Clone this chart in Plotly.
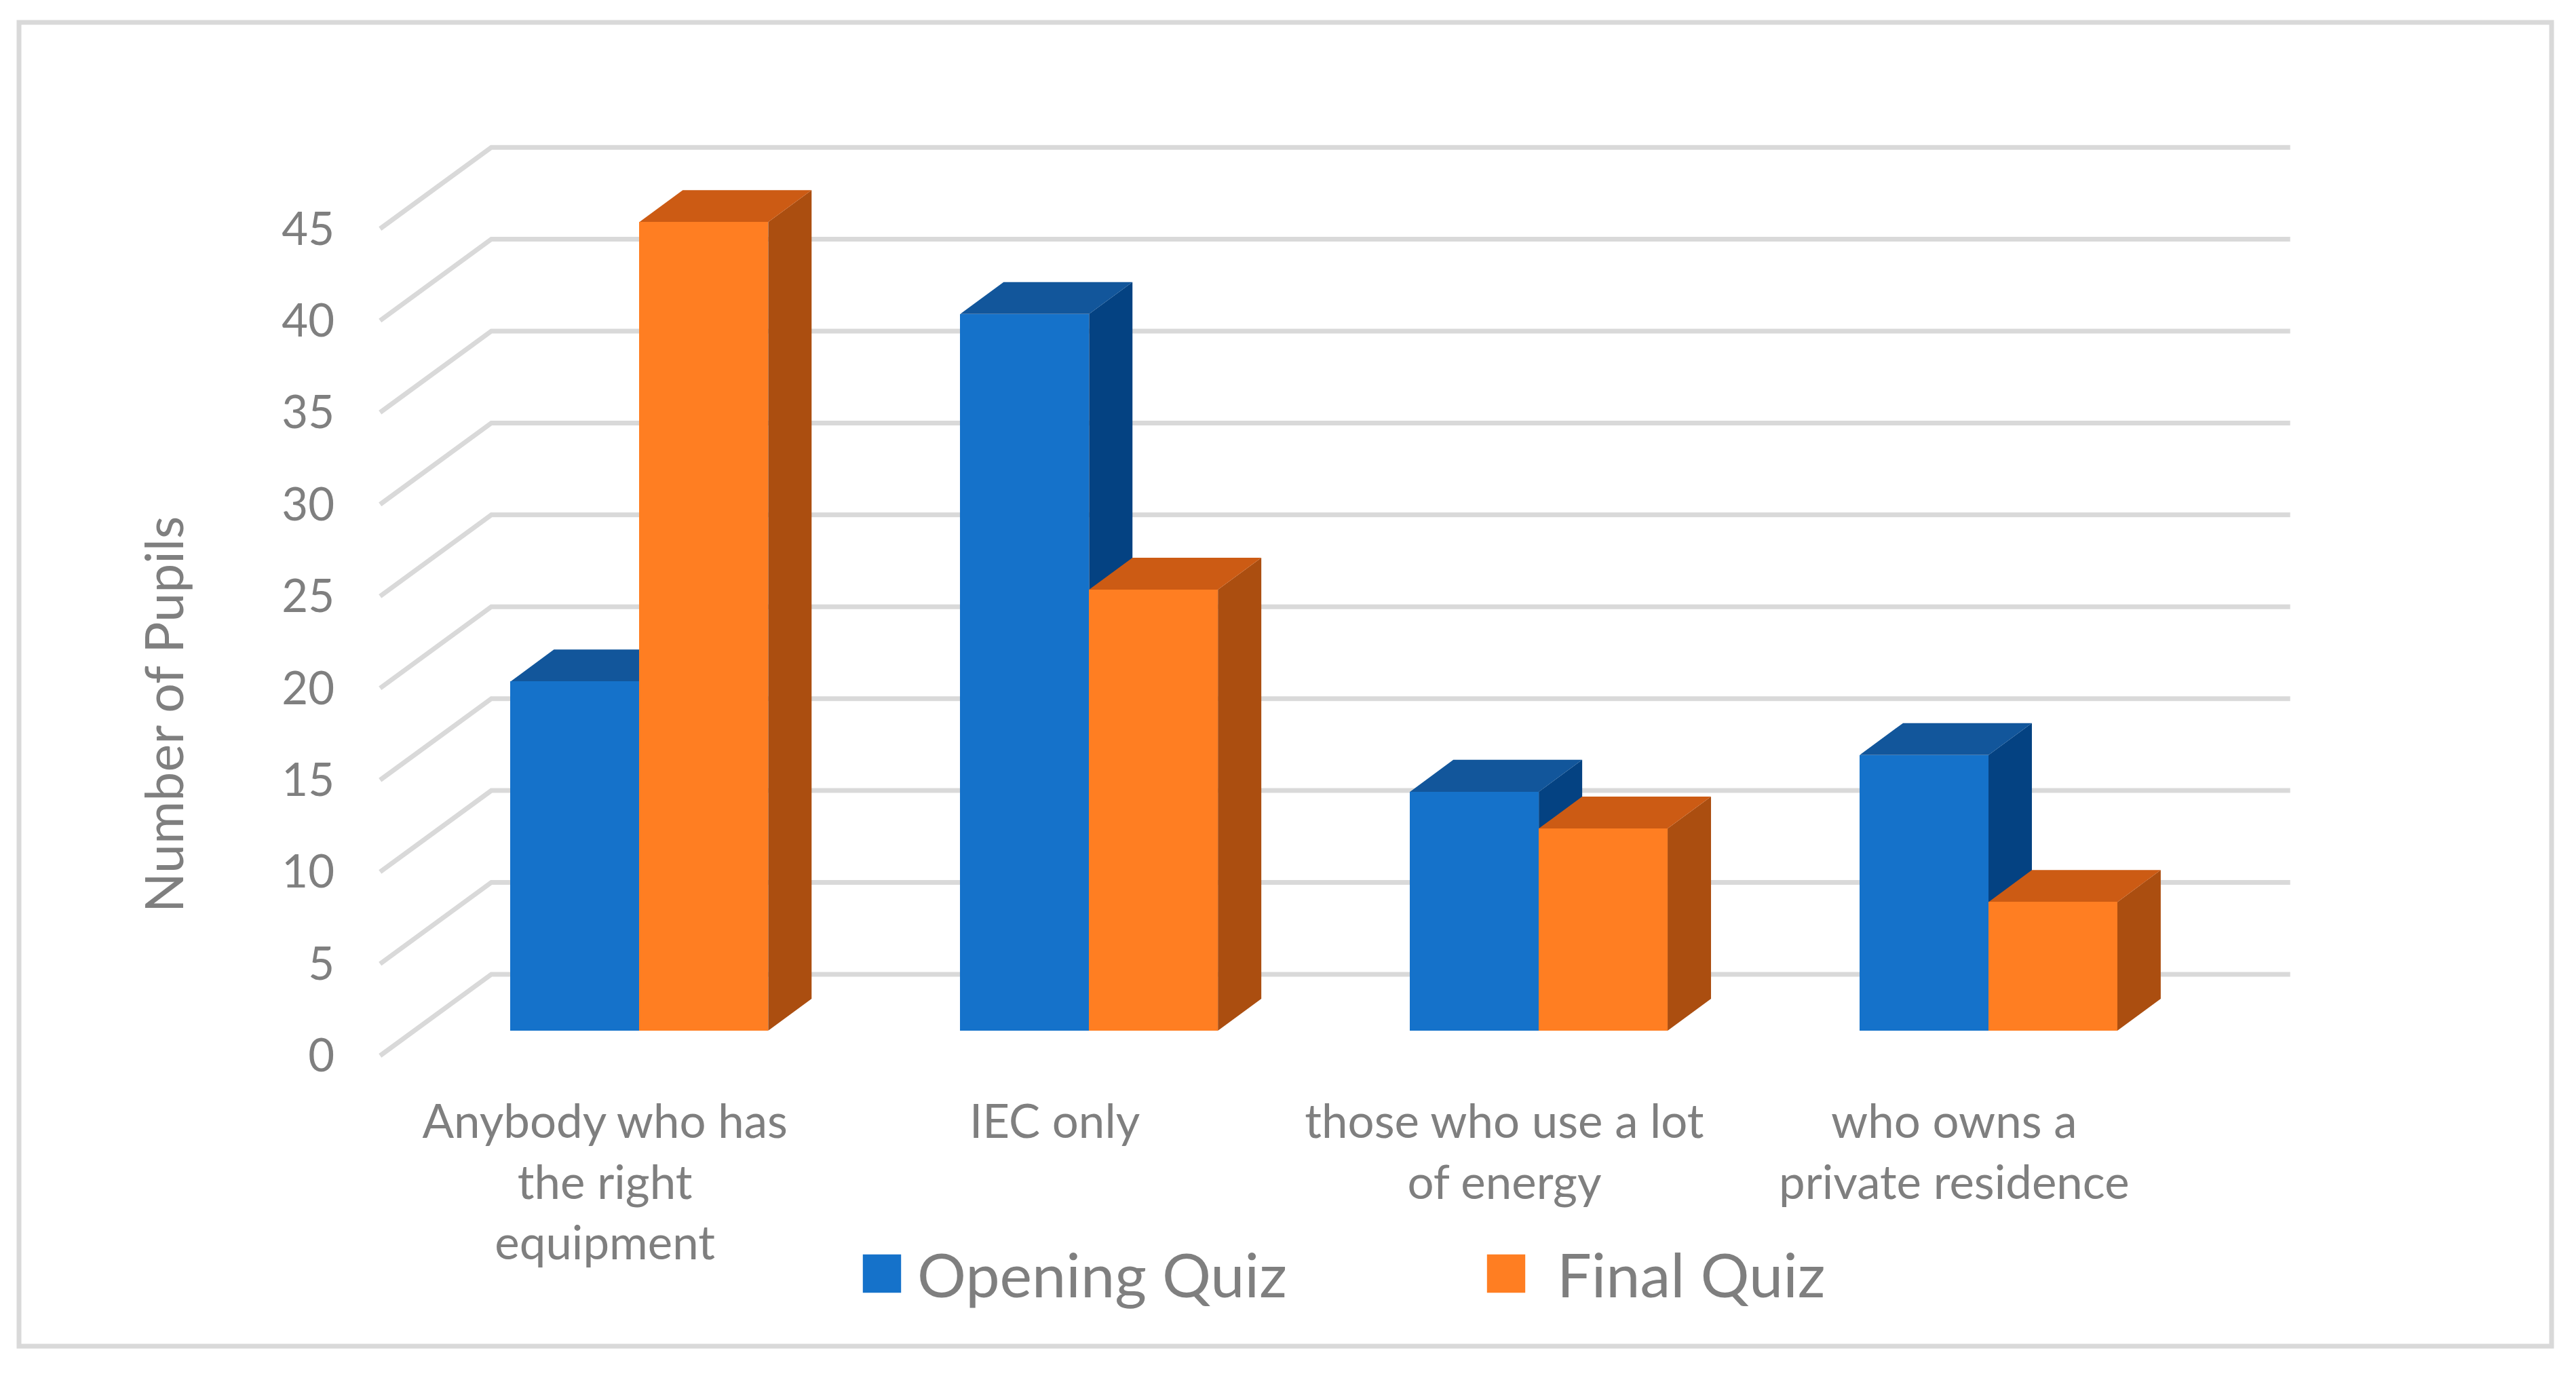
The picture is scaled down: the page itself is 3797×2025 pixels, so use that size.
import plotly.graph_objects as go

# ---- data ----
categories = ["Anybody who has<br>the right<br>equipment", "IEC only",
              "those who use a lot<br>of energy", "who owns a<br>private residence"]
opening_quiz = [19, 39, 13, 15]
final_quiz = [44, 24, 11, 7]
y_ticks = [0, 5, 10, 15, 20, 25, 30, 35, 40, 45]

# ---- oblique projection of the chart box, in axis units ----
WALL_X, WALL_Y = 0.2474, 4.43      # depth of the floor
BAR_DX, BAR_DY = 0.0965, 1.74      # depth of a bar
FRONT_Y = -1.36                    # front edge of floor
BAR_W = 0.2865
SPLIT = 0.0765
X_MIN, X_MAX = -0.5, 3.5 + WALL_X
Y_MAX = FRONT_Y + WALL_Y + 45
PAD_X, PAD_Y = 0.02, 0.3           # room so that the gridlines are not clipped

GREY = "#7F7F7F"
GRID = "#D9D9D9"
FONT = "Lato"
W, H = 3797, 2025
ML, MR, MT, MB = 547, 408, 209, 461
PW, PH = W - ML - MR, H - MT - MB


def faces(values, left_offset):
    top_x, top_y, side_x, side_y = [], [], [], []
    for i, v in enumerate(values):
        xl = i + left_offset
        xr = xl + BAR_W
        top_x += [xl, xr, xr + BAR_DX, xl + BAR_DX, xl, None]
        top_y += [v, v, v + BAR_DY, v + BAR_DY, v, None]
        side_x += [xr, xr + BAR_DX, xr + BAR_DX, xr, xr, None]
        side_y += [0, BAR_DY, v + BAR_DY, v, 0, None]
    return top_x, top_y, side_x, side_y


def poly(x, y, color, xa, ya):
    return go.Scatter(x=x, y=y, mode="lines", fill="toself", fillcolor=color,
                      line=dict(width=0, color=color), hoverinfo="skip",
                      showlegend=False, xaxis=xa, yaxis=ya)


fig = go.Figure()

# gridlines: back wall + side wall
gx, gy = [], []
for t in y_ticks:
    front = FRONT_Y + t
    gx += [X_MIN, X_MIN + WALL_X, X_MAX, None]
    gy += [front, front + WALL_Y, front + WALL_Y, None]
fig.add_trace(go.Scatter(x=gx, y=gy, mode="lines",
                         line=dict(color=GRID, width=7), hoverinfo="skip",
                         showlegend=False, xaxis="x", yaxis="y"))

# opening quiz: depth faces, then front faces on the next overlaid subplot
tx, ty, sx, sy = faces(opening_quiz, SPLIT - BAR_W)
fig.add_trace(poly(sx, sy, "#044282", "x", "y"))
fig.add_trace(poly(tx, ty, "#12569B", "x", "y"))
fig.add_trace(go.Bar(x=[i + SPLIT - BAR_W / 2 for i in range(4)], y=opening_quiz, width=BAR_W,
                     name="Opening Quiz", marker=dict(color="#1572CA", line=dict(width=0)),
                     xaxis="x2", yaxis="y2"))

# final quiz
tx, ty, sx, sy = faces(final_quiz, SPLIT)
fig.add_trace(poly(sx, sy, "#AB4E10", "x2", "y2"))
fig.add_trace(poly(tx, ty, "#CC5B14", "x2", "y2"))
fig.add_trace(go.Bar(x=[i + SPLIT + BAR_W / 2 for i in range(4)], y=final_quiz, width=BAR_W,
                     name="\u00a0Final Quiz", marker=dict(color="#FF7E22", line=dict(width=0)),
                     xaxis="x3", yaxis="y3"))

x_range = [X_MIN - PAD_X, X_MAX + PAD_X]
y_range = [FRONT_Y - PAD_Y, Y_MAX + PAD_Y]
hidden_x = dict(range=x_range, visible=False, fixedrange=True)
hidden_y = dict(range=y_range, visible=False, fixedrange=True)

fig.update_layout(
    width=W, height=H, autosize=False,
    margin=dict(l=ML, r=MR, t=MT, b=MB, pad=0),
    paper_bgcolor="white", plot_bgcolor="rgba(0,0,0,0)",
    barmode="overlay", bargap=0,
    font=dict(family=FONT, color=GREY, size=70),
    xaxis=dict(range=x_range, tickmode="array", tickvals=list(range(4)), ticktext=categories,
               showgrid=False, zeroline=False, showline=False, ticks="", ticklabelstandoff=43,
               tickangle=0, tickfont=dict(size=69, family=FONT, color=GREY)),
    yaxis=dict(range=y_range, tickmode="array", tickvals=[FRONT_Y + t for t in y_ticks],
               ticktext=[str(t) for t in y_ticks], showgrid=False, zeroline=False, showline=False,
               ticks="", ticklabelstandoff=53, tickfont=dict(size=67, family=FONT, color=GREY)),
    xaxis2=dict(overlaying="x", **hidden_x), yaxis2=dict(overlaying="y", **hidden_y),
    xaxis3=dict(overlaying="x", **hidden_x), yaxis3=dict(overlaying="y", **hidden_y),
    legend=dict(orientation="h", x=(1295 - ML - 30) / PW, xanchor="left",
                y=(H - MB - 1877) / PH, yanchor="middle",
                font=dict(size=90, family=FONT, color=GREY), itemwidth=77,
                entrywidth=828, entrywidthmode="pixels", traceorder="normal",
                bgcolor="rgba(0,0,0,0)", itemclick=False, itemdoubleclick=False),
    shapes=[dict(type="rect", xref="paper", yref="paper", layer="below",
                 x0=(28 - ML) / PW, x1=(3761 - ML) / PW,
                 y0=(H - MB - 1984) / PH, y1=(H - MB - 33) / PH,
                 line=dict(color=GRID, width=7), fillcolor="rgba(0,0,0,0)")],
    annotations=[dict(text="Number of Pupils", xref="paper", yref="paper",
                      x=(240 - ML) / PW, y=(H - MB - 1053) / PH, textangle=-90,
                      showarrow=False, xanchor="center", yanchor="middle",
                      font=dict(size=77, family=FONT, color=GREY))],
)

post = """
document.body.style.margin = '0';
document.querySelectorAll('.legendpoints path').forEach(function(p){
  p.setAttribute('transform','translate(35,0) scale(4.7)');
});
"""
fig.write_html("out.html", post_script=post, config={"displayModeBar": False})
